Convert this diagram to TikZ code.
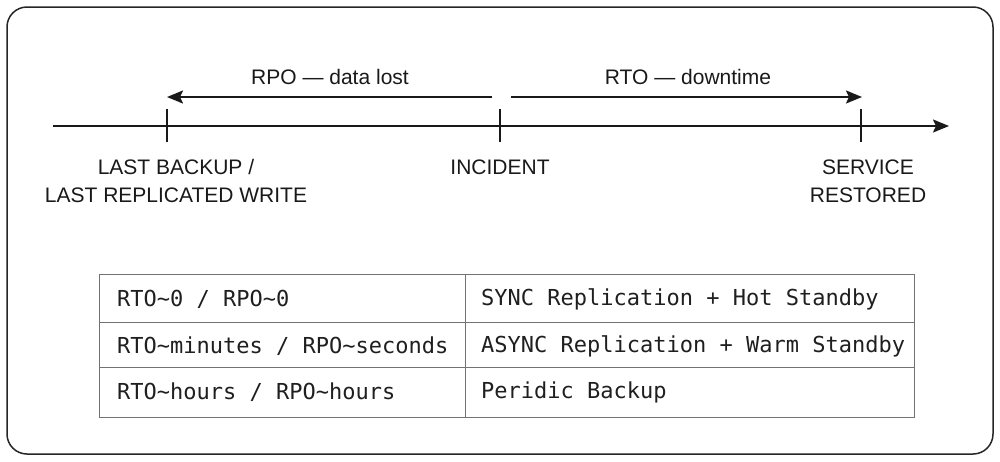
\documentclass[tikz,border=0pt]{standalone}
\usepackage{fontspec}
\setmainfont{Liberation Sans}
\newfontfamily\monof{DejaVu Sans Mono}
\usetikzlibrary{arrows.meta}
\begin{document}
\begin{tikzpicture}[x=1pt,y=-1pt,
  lbl/.style={font=\fontsize{21}{28}\selectfont, text=black!90, inner sep=0pt, align=center},
  cell/.style={font=\monof\fontsize{22}{24}\selectfont, text=black!88, inner sep=0pt, anchor=west},
  tl/.style={line width=2pt, black!90},
  tip/.style={-{Stealth[length=16pt,width=13pt,inset=3pt]}},
  grid/.style={draw=black!55, line width=1pt}]
\useasboundingbox (0,0) rectangle (1000,461);
\fill[white] (0,0) rectangle (1000,461);
\draw[line width=1.5pt, black!85, rounded corners=20pt] (7,7) rectangle (993,454);
% timeline
\coordinate (tstart) at (53,126);
\coordinate (tend) at (949,126);
\draw[tl,tip] (tstart) -- (tend);
\coordinate (pA) at (167,126);
\coordinate (pB) at (500,126);
\coordinate (pC) at (861,126);
\foreach \p in {pA,pB,pC}{\draw[tl] ([yshift=-16pt]\p) -- ([yshift=17pt]\p);}
% arrows
\coordinate (rpoS) at (492,97);
\coordinate (rpoE) at (167,97);
\coordinate (rtoS) at (511,97);
\coordinate (rtoE) at (862,97);
\draw[tl,tip] (rpoS) -- (rpoE);
\draw[tl,tip] (rtoS) -- (rtoE);
\node[lbl] (rpo) at (330,77) {RPO — data lost};
\node[lbl] (rto) at (688,77) {RTO — downtime};
\node[lbl] (lb) at (176,181) {LAST BACKUP /\\LAST REPLICATED WRITE};
\node[lbl] (inc) at (500,167) {INCIDENT};
\node[lbl] (sr) at (868,181) {SERVICE\\RESTORED};
% table
\draw[grid] (99,274) rectangle (914,417);
\draw[grid] (99,322) -- (914,322);
\draw[grid] (99,367) -- (914,367);
\draw[grid] (465,274) -- (465,417);
\node[cell] (a1) at (117,299) {RTO\textasciitilde0 / RPO\textasciitilde0};
\node[cell] (a2) at (117,346) {RTO\textasciitilde minutes / RPO\textasciitilde seconds};
\node[cell] (a3) at (117,392) {RTO\textasciitilde hours / RPO\textasciitilde hours};
\node[cell] (b1) at (481,299) {SYNC Replication + Hot Standby};
\node[cell] (b2) at (481,346) {ASYNC Replication + Warm Standby};
\node[cell] (b3) at (481,392) {Peridic Backup};
\end{tikzpicture}
\end{document}
